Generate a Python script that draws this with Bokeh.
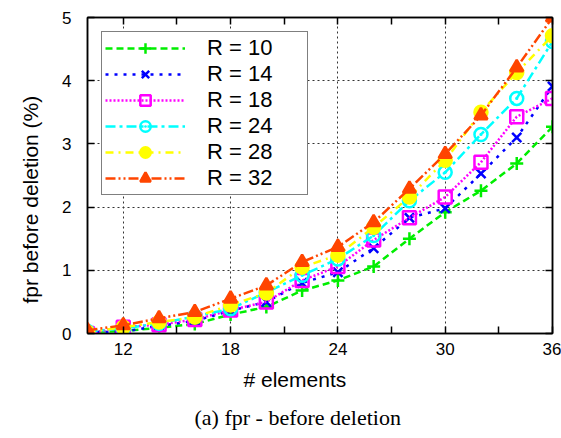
from bokeh.plotting import figure
from bokeh.models import (Legend, LegendItem, FixedTicker, LinearAxis, Range1d,
                          Title, ColumnDataSource)
from bokeh.embed import file_html
from bokeh.resources import INLINE

n_elements = [10, 12, 14, 16, 18, 20, 22, 24, 26, 28, 30, 32, 34, 36]
r10 = [0.02, 0.04, 0.09, 0.15, 0.30, 0.42, 0.68, 0.84, 1.06, 1.50, 1.92, 2.26, 2.69, 3.27]
r14 = [0.02, 0.03, 0.12, 0.20, 0.36, 0.50, 0.80, 0.97, 1.35, 1.83, 1.98, 2.53, 3.10, 3.91]
r18 = [0.00, 0.10, 0.14, 0.22, 0.37, 0.50, 0.84, 1.06, 1.48, 1.83, 2.16, 2.71, 3.43, 3.72]
r24 = [0.03, 0.08, 0.16, 0.27, 0.39, 0.65, 0.92, 1.18, 1.55, 2.10, 2.55, 3.15, 3.72, 4.62]
r28 = [0.02, 0.10, 0.18, 0.26, 0.45, 0.64, 1.05, 1.24, 1.68, 2.16, 2.74, 3.50, 4.13, 4.71]
r32 = [0.05, 0.13, 0.24, 0.34, 0.55, 0.76, 1.13, 1.37, 1.76, 2.29, 2.84, 3.45, 4.21, 5.00]

series_labels = ["R = 10", "R = 14", "R = 18", "R = 24", "R = 28", "R = 32"]
series_values = [r10, r14, r18, r24, r28, r32]
x_tick_values = [12, 15, 18, 21, 24, 27, 30, 33, 36]
x_tick_labels = {12: "12", 15: "", 18: "18", 21: "", 24: "24", 27: "", 30: "30", 33: "", 36: "36"}
y_tick_values = [0, 1, 2, 3, 4, 5]

colors = ["#00ee00", "#0000ff", "#ff00ff", "#00ffff", "#ffff00", "#ff4500"]
dashes = ["7 4", "3 6", "2 2", "10 4 3 4", "8 5 2 5", "10 3 2 3 2 3"]
markers = ["cross", "x", "square", "circle_dot", "circle", "triangle"]
filled = [False, False, False, False, True, True]

SANS = "Liberation Sans"

p = figure(width=561, height=438, output_backend="svg", toolbar_location=None,
           x_range=Range1d(10, 36), y_range=Range1d(0, 5),
           min_border_left=87, min_border_right=9, min_border_top=17,
           min_border_bottom=105)
p.outline_line_color = "black"
p.outline_line_width = 1.5

bottom_axis = p.xaxis[0]
left_axis = p.yaxis[0]
bottom_axis.ticker = FixedTicker(ticks=x_tick_values)
bottom_axis.major_label_overrides = x_tick_labels
left_axis.ticker = FixedTicker(ticks=y_tick_values)

top_axis = LinearAxis(ticker=FixedTicker(ticks=x_tick_values))
right_axis = LinearAxis(ticker=FixedTicker(ticks=y_tick_values))
p.add_layout(top_axis, "above")
p.add_layout(right_axis, "right")

for ax in [bottom_axis, left_axis, top_axis, right_axis]:
    ax.major_tick_in = 7
    ax.major_tick_out = 0
    ax.minor_tick_in = 0
    ax.minor_tick_out = 0
    ax.axis_line_color = "black"
    ax.axis_line_width = 1.5
    ax.major_tick_line_width = 1.5
    ax.major_label_text_font = SANS
    ax.major_label_text_font_size = "17px"
    ax.major_label_text_color = "black"
for ax in [top_axis, right_axis]:
    ax.major_label_text_font_size = "0px"
    ax.major_label_text_color = None
    ax.major_label_standoff = 0

bottom_axis.major_label_standoff = 9
left_axis.major_label_standoff = 16

# y-axis title placed as a side title so it can sit below the frame centre, as in gnuplot
ylabel = Title(text="fpr before deletion (%)", align="left", offset=30,
               vertical_align="middle", text_font=SANS, text_font_size="21px",
               text_font_style="normal", standoff=34, text_color="black")
p.add_layout(ylabel, "left")

p.xgrid.ticker = FixedTicker(ticks=[12, 18, 24, 30])
p.ygrid.ticker = FixedTicker(ticks=[1, 2, 3, 4])
for g in [p.xgrid, p.ygrid]:
    g.grid_line_color = "#333333"
    g.grid_line_dash = "2 3"
    g.grid_line_width = 1

items = []
for label, vals, c, d, m, f in zip(series_labels, series_values, colors, dashes, markers, filled):
    src = ColumnDataSource(dict(x=n_elements, y=vals))
    ln = p.line("x", "y", source=src, line_color=c, line_width=2.5, line_dash=d)
    sc = p.scatter("x", "y", source=src, marker=m, size=13, line_color=c, line_width=2.5,
                   fill_color=c if f else None)
    items.append(LegendItem(label=label, renderers=[ln, sc]))

legend = Legend(items=items, location="top_left")
legend.label_text_font = SANS
legend.label_text_font_size = "22px"
legend.label_text_color = "black"
legend.glyph_width = 80
legend.glyph_height = 26
legend.label_height = 26
legend.label_width = 97
legend.spacing = 0
legend.padding = 3
legend.margin = 14
legend.label_standoff = 22
legend.border_line_color = "black"
legend.border_line_width = 1.5
legend.background_fill_alpha = 1.0
p.add_layout(legend, "center")

xlabel = Title(text="# elements", align="left", offset=156, text_font=SANS,
               text_font_size="21px", text_font_style="normal", standoff=16,
               text_color="black")
caption = Title(text="(a)  fpr - before deletion", align="left", offset=107,
                text_font="Liberation Serif", text_font_size="22px",
                text_font_style="normal", standoff=8, text_color="black")
p.add_layout(xlabel, "below")
p.add_layout(caption, "below")

open("out.html", "w").write(file_html(p, INLINE))
